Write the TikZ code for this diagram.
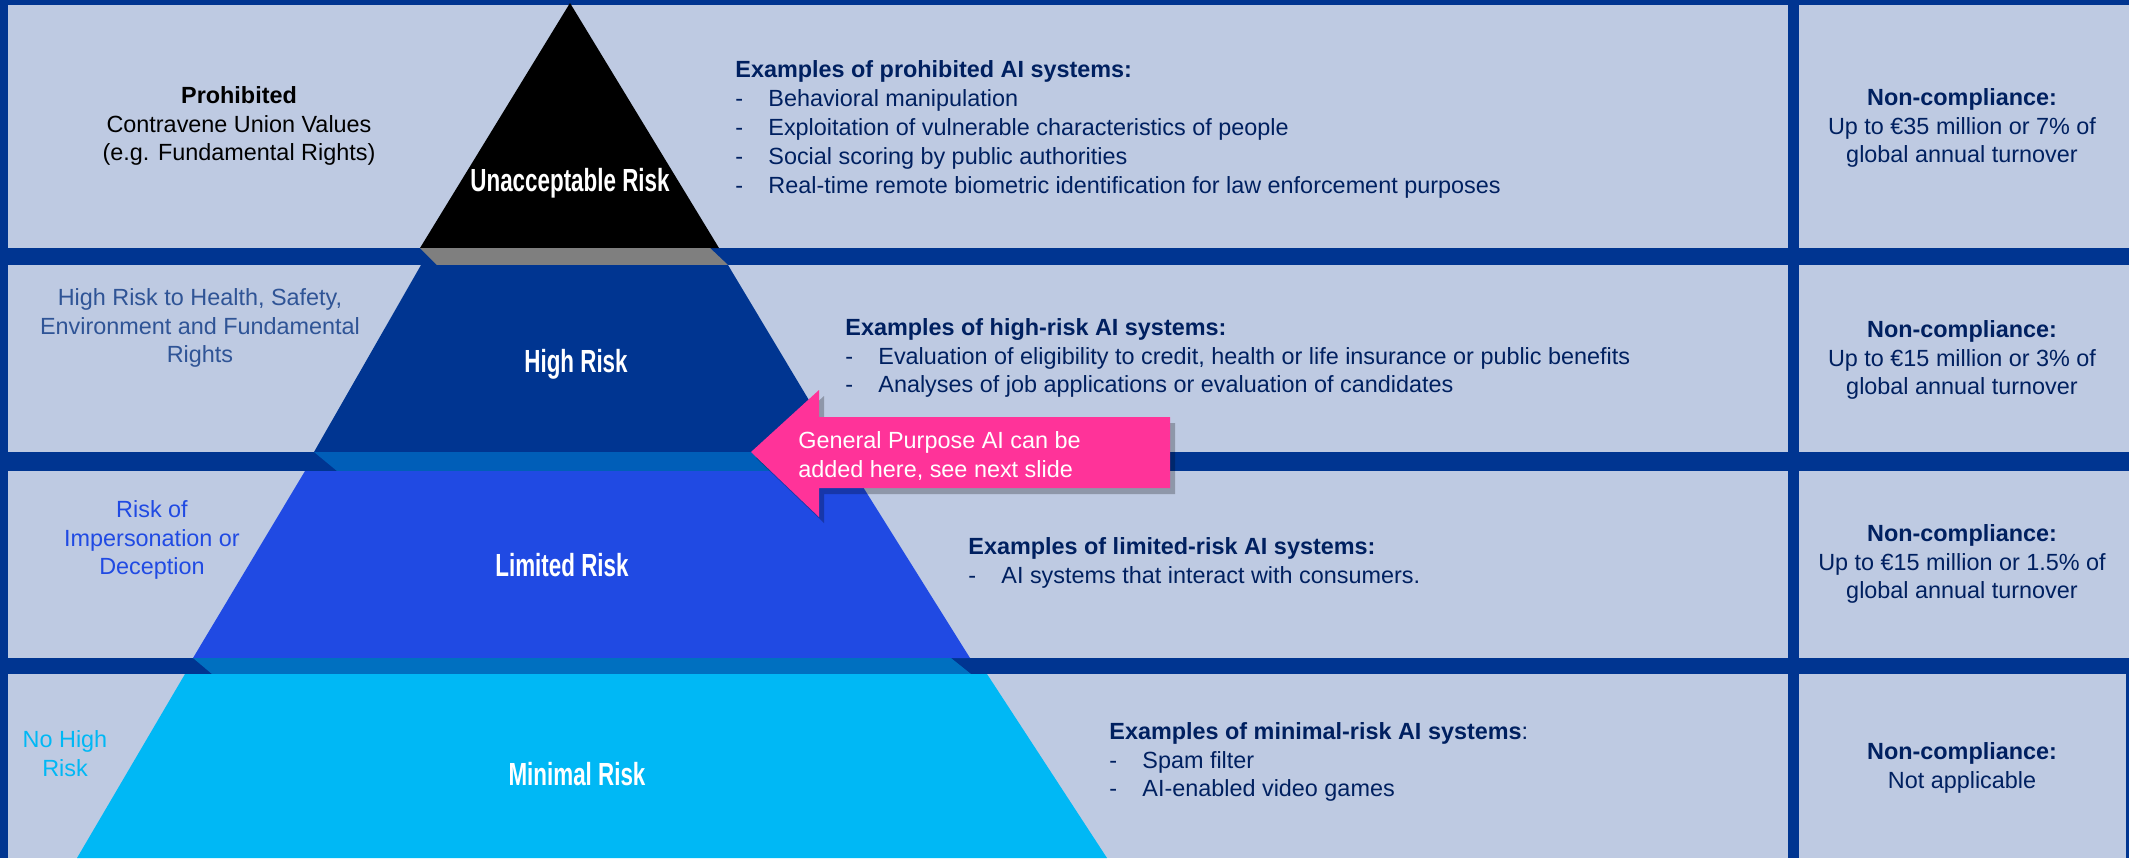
\documentclass[tikz,border=0pt]{standalone}
\usepackage{fontspec}
\setmainfont{Liberation Sans}
\newfontfamily\tierfont[FakeStretch=0.7]{Liberation Sans}

\definecolor{navy}{RGB}{0,53,145}
\definecolor{cellbg}{RGB}{190,202,226}
\definecolor{bevelgrey}{RGB}{127,127,127}
\definecolor{bevelhigh}{RGB}{0,94,184}
\definecolor{limblue}{RGB}{32,74,227}
\definecolor{bevellim}{RGB}{0,112,192}
\definecolor{minblue}{RGB}{0,184,245}
\definecolor{textnavy}{RGB}{0,32,96}
\definecolor{highgrey}{RGB}{47,84,150}
\definecolor{gpaipink}{RGB}{255,51,153}

\newcommand{\dashitem}{\makebox[16.5pt][l]{-}}

\begin{document}
\begin{tikzpicture}[x=0.5pt, y=-0.5pt,
    txt/.style={inner sep=0pt, font=\fontsize{11.7}{14.4}\selectfont},
    examples/.style={txt, anchor=west, align=left, text=textnavy},
    fine/.style={txt, align=center, text=textnavy},
    tierlabel/.style={inner sep=0pt, text=white, font=\tierfont\bfseries\fontsize{16}{19}\selectfont}]
    \useasboundingbox (0,0) rectangle (2129,858);

    % frame and cells
    \fill[navy] (0,0) rectangle (2129,858);
    \foreach \top/\bot in {5/248, 265/452, 471/658, 674/858} {
        \fill[cellbg] (8,\top) rectangle (1788,\bot);
        \fill[cellbg] (1799,\top) rectangle (2129,\bot);
    }
    \fill[navy] (2126,674) rectangle (2129,858);

    % pyramid
    \fill[black] (570,3) -- (719,248) -- (420,248) -- cycle;
    \fill[bevelgrey] (420,248) -- (710,248) -- (728,265) -- (437,265) -- cycle;
    \fill[navy] (421,265) -- (728,265) -- (840,452) -- (314,452) -- cycle;
    \fill[bevelhigh] (314,452) -- (822,452) -- (842,471) -- (337,471) -- cycle;
    \fill[limblue] (305,471) -- (853,471) -- (970,658) -- (193,658) -- cycle;
    \fill[bevellim] (193,658) -- (951,658) -- (971,674) -- (212,674) -- cycle;
    \fill[minblue] (185,674) -- (987,674) -- (1107,858) -- (77,858) -- cycle;

    \node[tierlabel] (unacc) at (570,183) {Unacceptable Risk};
    \node[tierlabel] (high) at (576,364) {High Risk};
    \node[tierlabel] (limited) at (562,565) {Limited Risk};
    \node[tierlabel] (minimal) at (577,774) {Minimal Risk};

    % left column
    \node[txt, align=center] (prohib) at (239,126)
        {\textbf{Prohibited}\\Contravene Union Values\\(e.g. Fundamental Rights)};
    \node[txt, align=center, text=highgrey] (healthrisk) at (200,328)
        {High Risk to Health, Safety,\\Environment and Fundamental\\Rights};
    \node[txt, align=center, text=limblue] (deception) at (152,540)
        {Risk of\\Impersonation or\\Deception};
    \node[txt, align=center, text=minblue] (nohigh) at (65,754)
        {No High\\Risk};

    % examples
    \node[examples] (ex1) at (735,129.5) {\textbf{Examples of prohibited AI systems:}\\
        \dashitem Behavioral manipulation\\
        \dashitem Exploitation of vulnerable characteristics of people\\
        \dashitem Social scoring by public authorities\\
        \dashitem Real-time remote biometric identification for law enforcement purposes};
    \node[examples] (ex2) at (845,358) {\textbf{Examples of high-risk AI systems:}\\
        \dashitem Evaluation of eligibility to credit, health or life insurance or public benefits\\
        \dashitem Analyses of job applications or evaluation of candidates};
    \node[examples] (ex3) at (968,563) {\textbf{Examples of limited-risk AI systems:}\\
        \dashitem AI systems that interact with consumers.};
    \node[examples] (ex4) at (1109,762) {\textbf{Examples of minimal-risk AI systems}:\\
        \dashitem Spam filter\\
        \dashitem AI-enabled video games};

    % fines
    \node[fine] (fine1) at (1962,128) {\textbf{Non-compliance:}\\Up to €35 million or 7\% of\\global annual turnover};
    \node[fine] (fine2) at (1962,360) {\textbf{Non-compliance:}\\Up to €15 million or 3\% of\\global annual turnover};
    \node[fine] (fine3) at (1962,564) {\textbf{Non-compliance:}\\Up to €15 million or 1.5\% of\\global annual turnover};
    \node[fine] (fine4) at (1962,768) {\textbf{Non-compliance:}\\Not applicable};

    % GPAI callout
    \fill[black, opacity=0.25, shift={(5,6)}] (751,452) -- (819,390) -- (819,417) -- (1170,417)
        -- (1170,488) -- (819,488) -- (819,517) -- cycle;
    \fill[gpaipink] (751,452) -- (819,390) -- (819,417) -- (1170,417)
        -- (1170,488) -- (819,488) -- (819,517) -- cycle;
    \node[txt, anchor=west, align=left, text=white] (gpai) at (798,456)
        {General Purpose AI can be\\added here, see next slide};
\end{tikzpicture}
\end{document}
